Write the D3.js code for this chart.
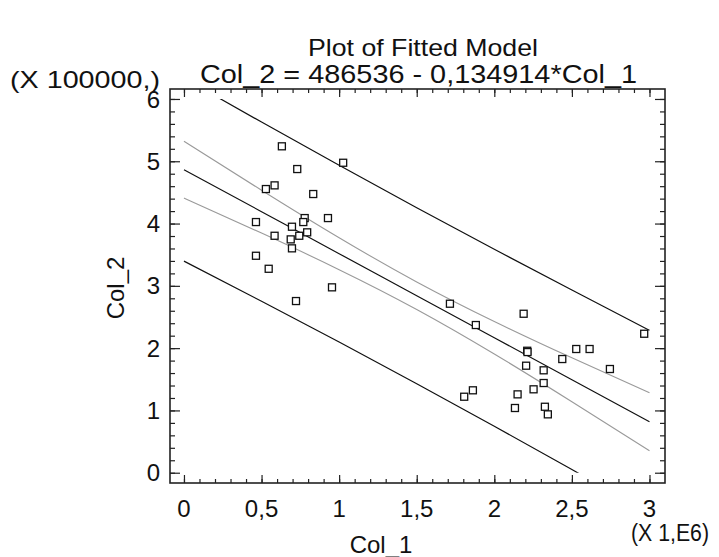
<!DOCTYPE html>
<html>
<head>
<meta charset="utf-8">
<script src="https://cdn.jsdelivr.net/npm/d3@7"></script>
<style>
  body { margin: 0; background: #fff; }
  text { font-family: "Liberation Sans", Arial, sans-serif; fill: #111; }
</style>
</head>
<body>
<div id="chart"></div>
<script>
// observed points (raw units)
var col1 = [631000,1026000,730000,584000,528000,833000,464000,778000,769000,928000,
            696000,794000,584000,743000,688000,696000,464000,546000,954000,722000,
            1714000,1881000,2189000,2966000,2212000,2214000,2528000,2614000,2438000,2205000,
            2318000,2745000,2318000,2253000,2150000,1862000,1806000,2133000,2326000,2345000];
var col2 = [524000,497600,487500,461300,455400,447400,402400,408800,402400,408800,
            394900,385900,380400,380400,374600,360200,348300,327400,297600,275600,
            271300,237100,255200,223100,195800,193700,198600,198600,182500,171800,
            164400,166500,144000,133900,125800,132300,122000,103900,105900,93700];

// fitted line and limits, read at these Col_1 values
var bandX      = [0, 500000, 1000000, 1500000, 2000000, 2500000, 3000000];
var fitY       = [486500, 419100, 351600, 284200, 216700, 149200, 81800];
var confUpper  = [532000, 453500, 377200, 306300, 242800, 184400, 128200];
var confLower  = [441000, 384700, 326000, 262100, 190600, 114000, 35400];
var predUpper  = [633300, 562900, 493500, 425500, 358700, 293300, 228600];
var predLower  = [339700, 275300, 209700, 142900, 74700, 5100, -65000];

var xMajor = [0, 500000, 1000000, 1500000, 2000000, 2500000, 3000000];
var yMajor = [0, 100000, 200000, 300000, 400000, 500000, 600000];

var W = 719, H = 557;
var pL = 170, pR = 665, pT = 89, pB = 483;

var svg = d3.select("#chart").append("svg")
    .attr("width", W)
    .attr("height", H);

var x = d3.scaleLinear().domain([-90000, 3100000]).range([pL, pR]);
var y = d3.scaleLinear().domain([-16500, 616000]).range([pB, pT]);

var fmt = d3.formatLocale({decimal: ",", thousands: ".", grouping: [3], currency: ["", ""]}).format("~g");

var xMinor = d3.range(0, 3050000, 100000);
var yMinor = d3.range(0, 610000, 20000);

// clip so limit lines stop at 0 and 6
svg.append("clipPath").attr("id", "clip")
  .append("rect")
    .attr("x", pL)
    .attr("y", y(600000))
    .attr("width", pR - pL)
    .attr("height", y(0) - y(600000));

function drawLine(vals, color, w) {
  var line = d3.line()
      .x(function(d, i) { return x(bandX[i]); })
      .y(function(d) { return y(d); })
      .curve(d3.curveNatural);
  svg.append("path")
      .attr("d", line(vals))
      .attr("clip-path", "url(#clip)")
      .attr("fill", "none")
      .attr("stroke", color)
      .attr("stroke-width", w);
}

drawLine(confUpper, "#9a9a9a", 1.1);
drawLine(confLower, "#9a9a9a", 1.1);
drawLine(predUpper, "#111", 1.2);
drawLine(predLower, "#111", 1.2);
drawLine(fitY, "#111", 1.2);

function addAxis(ax, tx, ty) {
  var g = svg.append("g").attr("transform", "translate(" + tx + "," + ty + ")").call(ax);
  g.select(".domain").remove();
  g.selectAll("line").attr("stroke", "#222").attr("stroke-width", 1.2);
  return g;
}
// ticks inside on all four sides, minor then major
addAxis(d3.axisTop(x).tickValues(xMinor).tickSize(4).tickFormat(""), 0, pB);
addAxis(d3.axisBottom(x).tickValues(xMinor).tickSize(4).tickFormat(""), 0, pT);
addAxis(d3.axisRight(y).tickValues(yMinor).tickSize(5).tickFormat(""), pL, 0);
addAxis(d3.axisLeft(y).tickValues(yMinor).tickSize(5).tickFormat(""), pR, 0);

addAxis(d3.axisTop(x).tickValues(xMajor).tickSize(8).tickFormat(""), 0, pB);
addAxis(d3.axisBottom(x).tickValues(xMajor).tickSize(8).tickFormat(""), 0, pT);
addAxis(d3.axisRight(y).tickValues(yMajor).tickSize(10).tickFormat(""), pL, 0);
addAxis(d3.axisLeft(y).tickValues(yMajor).tickSize(10).tickFormat(""), pR, 0);

svg.append("rect")
    .attr("x", pL)
    .attr("y", pT)
    .attr("width", pR - pL)
    .attr("height", pB - pT)
    .attr("fill", "none")
    .attr("stroke", "#222")
    .attr("stroke-width", 1.6);

// tick labels
svg.selectAll(".xl").data(xMajor).enter().append("text")
    .attr("class", "xl")
    .attr("x", function(d) { return x(d); })
    .attr("y", 517)
    .attr("text-anchor", "middle")
    .style("font-size", "24px")
    .text(function(d) { return fmt(d / 1e6); });

svg.selectAll(".yl").data(yMajor).enter().append("text")
    .attr("class", "yl")
    .attr("x", 160)
    .attr("y", function(d) { return y(d); })
    .attr("dy", "0.36em")
    .attr("text-anchor", "end")
    .style("font-size", "24px")
    .text(function(d) { return fmt(d / 1e5); });

// points
svg.selectAll(".pt").data(col1).enter().append("rect")
    .attr("class", "pt")
    .attr("x", function(d) { return x(d) - 3.5; })
    .attr("y", function(d, i) { return y(col2[i]) - 3.5; })
    .attr("width", 7)
    .attr("height", 7)
    .attr("fill", "#fff")
    .attr("stroke", "#111")
    .attr("stroke-width", 1.3);

// titles
svg.append("text")
    .attr("x", 308).attr("y", 56)
    .attr("textLength", 230)
    .attr("lengthAdjust", "spacingAndGlyphs")
    .style("font-size", "24px")
    .text("Plot of Fitted Model");

svg.append("text")
    .attr("x", 200).attr("y", 83)
    .attr("textLength", 437)
    .attr("lengthAdjust", "spacingAndGlyphs")
    .style("font-size", "25px")
    .text("Col_2 = 486536 - 0,134914*Col_1");

svg.append("text")
    .attr("x", 10).attr("y", 88)
    .attr("textLength", 150)
    .attr("lengthAdjust", "spacingAndGlyphs")
    .style("font-size", "24px")
    .text("(X 100000,)");

svg.append("text")
    .attr("x", 631).attr("y", 541)
    .attr("textLength", 78)
    .attr("lengthAdjust", "spacingAndGlyphs")
    .style("font-size", "23px")
    .text("(X 1,E6)");

svg.append("text")
    .attr("x", 381).attr("y", 553)
    .attr("text-anchor", "middle")
    .style("font-size", "24px")
    .text("Col_1");

svg.append("text")
    .attr("transform", "translate(124,288) rotate(-90)")
    .attr("text-anchor", "middle")
    .style("font-size", "24px")
    .text("Col_2");
</script>
</body>
</html>
